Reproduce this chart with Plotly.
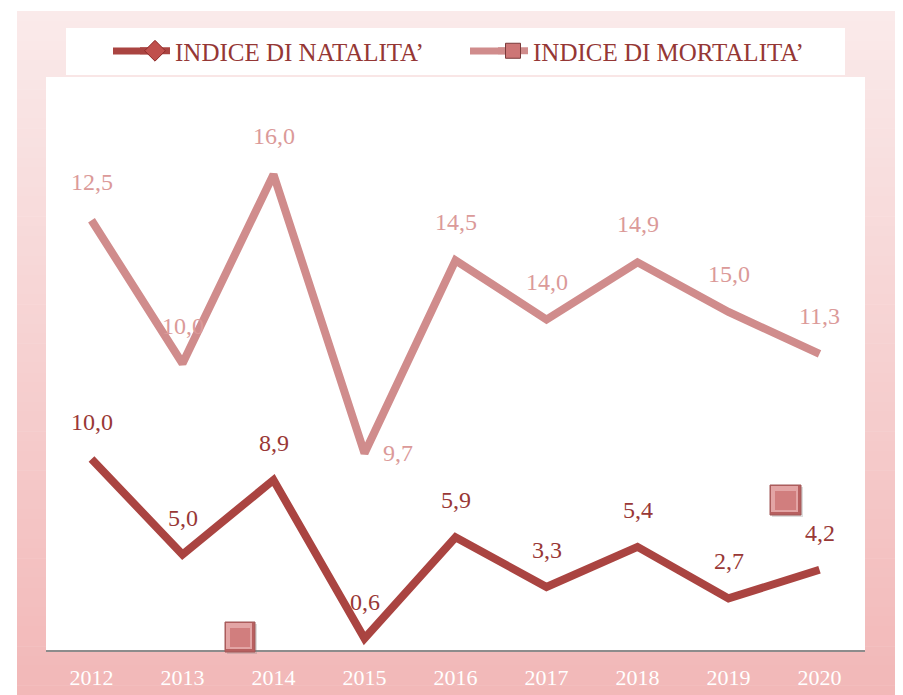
import plotly.graph_objects as go

years = ["2012", "2013", "2014", "2015", "2016", "2017", "2018", "2019", "2020"]
natalita = [10.0, 5.0, 8.9, 0.6, 5.9, 3.3, 5.4, 2.7, 4.2]
mortalita = [12.5, 10.0, 16.0, 9.7, 14.5, 14.0, 14.9, 15.0, 11.3]
name_nat = "INDICE DI NATALITA\u2019"
name_mort = "INDICE DI MORTALITA\u2019"

W, H = 903, 695
ML, MR, MT, MB = 46, 38, 77, 45
PW, PH = W - ML - MR, H - MT - MB

def px2x(px):
    return (px - ML) / PW

def py2y(py):
    return (H - MB - py) / PH

FONT = "Liberation Serif, Times New Roman, serif"
C_NAT = "#AA4441"
C_MORT = "#D08C8C"
C_NAT_TXT = "#993836"
C_MORT_TXT = "#DB9A99"

fig = go.Figure()

# stacked line chart (no area fill)
fig.add_trace(go.Scatter(x=years, y=natalita, stackgroup="s", fill="none", mode="lines",
                         line=dict(color=C_NAT, width=8), showlegend=False, name=name_nat))
fig.add_trace(go.Scatter(x=years, y=mortalita, stackgroup="s", fill="none", mode="lines",
                         line=dict(color=C_MORT, width=8), showlegend=False, name=name_mort))

# legend entries
fig.add_trace(go.Scatter(x=[None], y=[None], mode="lines+markers", name=name_nat,
                         line=dict(color=C_NAT, width=7),
                         marker=dict(symbol="diamond", size=16, color="#C0504D",
                                     line=dict(color="#8E2B29", width=1))))
fig.add_trace(go.Scatter(x=[None], y=[None], mode="lines+markers", name=name_mort,
                         line=dict(color=C_MORT, width=7),
                         marker=dict(symbol="square", size=15, color="#CD7676",
                                     line=dict(color="#7A3A3A", width=1))))

def fmt(v):
    return f"{v:.1f}".replace(".", ",")

annotations = []
cum = [a + b for a, b in zip(natalita, mortalita)]
for i, yr in enumerate(years):
    annotations.append(dict(x=i, y=natalita[i], xref="x", yref="y", text=fmt(natalita[i]),
                            showarrow=False, yanchor="middle", xanchor="center", yshift=37,
                            font=dict(family=FONT, size=24, color=C_NAT_TXT)))
    if yr == "2015":
        annotations.append(dict(x=i, y=cum[i], xref="x", yref="y", text=fmt(mortalita[i]),
                                showarrow=False, yanchor="middle", xanchor="left",
                                xshift=16, yshift=0,
                                font=dict(family=FONT, size=24, color=C_MORT_TXT)))
    else:
        annotations.append(dict(x=i, y=cum[i], xref="x", yref="y", text=fmt(mortalita[i]),
                                showarrow=False, yanchor="middle", xanchor="center", yshift=38,
                                font=dict(family=FONT, size=24, color=C_MORT_TXT)))

shapes = []
# gradient background
top_py, bot_py = 11, H
n = 70
c0 = (250, 234, 234)
c1 = (242, 184, 184)
for k in range(n):
    t = k / (n - 1)
    col = tuple(round(c0[j] + (c1[j] - c0[j]) * t) for j in range(3))
    y_a = top_py + (bot_py - top_py) * k / n
    y_b = top_py + (bot_py - top_py) * (k + 1) / n + 0.6
    shapes.append(dict(type="rect", xref="paper", yref="paper", layer="below",
                       x0=px2x(17), x1=px2x(895), y0=py2y(y_a), y1=py2y(y_b),
                       fillcolor=f"rgb{col}", line=dict(width=0)))
# legend box
shapes.append(dict(type="rect", xref="paper", yref="paper", layer="below",
                   x0=px2x(66), x1=px2x(845), y0=py2y(28), y1=py2y(75),
                   fillcolor="white", line=dict(width=0)))
# plot area
shapes.append(dict(type="rect", xref="paper", yref="paper", layer="below",
                   x0=0, x1=1, y0=0, y1=1, fillcolor="white", line=dict(width=0)))
# legend line extensions (the original legend keys are longer)
for (xa, xb, col) in [(113, 150, C_NAT), (470, 507, C_MORT)]:
    shapes.append(dict(type="line", xref="paper", yref="paper", layer="below",
                       x0=px2x(xa), x1=px2x(xb), y0=py2y(51), y1=py2y(51),
                       line=dict(color=col, width=7)))
# stray decorative squares (bevelled look)
for (xa, xb, ya, yb) in [(225, 255, 622, 652), (770, 801, 485, 515)]:
    shapes.append(dict(type="rect", xref="paper", yref="paper", layer="above",
                       x0=px2x(xa + 2), x1=px2x(xb + 2), y0=py2y(ya + 2), y1=py2y(yb + 2),
                       fillcolor="rgba(120,120,120,0.25)", line=dict(width=0)))
    shapes.append(dict(type="rect", xref="paper", yref="paper", layer="above",
                       x0=px2x(xa), x1=px2x(xb), y0=py2y(ya), y1=py2y(yb),
                       fillcolor="#B86060", line=dict(color="#A05858", width=1)))
    shapes.append(dict(type="rect", xref="paper", yref="paper", layer="above",
                       x0=px2x(xa + 1), x1=px2x(xb - 3), y0=py2y(ya + 1), y1=py2y(yb - 3),
                       fillcolor="#E3A5A5", line=dict(width=0)))
    shapes.append(dict(type="rect", xref="paper", yref="paper", layer="above",
                       x0=px2x(xa + 5), x1=px2x(xb - 5), y0=py2y(ya + 6), y1=py2y(yb - 5),
                       fillcolor="#D17E7E", line=dict(width=0)))

fig.update_layout(
    width=W, height=H,
    margin=dict(l=ML, r=MR, t=MT, b=MB, autoexpand=False),
    paper_bgcolor="white",
    plot_bgcolor="rgba(0,0,0,0)",
    font=dict(family=FONT),
    showlegend=True,
    legend=dict(orientation="h", x=px2x(135), xanchor="left", y=py2y(51), yanchor="middle",
                bgcolor="rgba(0,0,0,0)", font=dict(family=FONT, size=25, color="#953735"),
                entrywidth=313, itemwidth=30),
    xaxis=dict(type="category", range=[-0.5, 8.5], showgrid=False, zeroline=False,
               showline=True, linecolor="#8C8C8C", linewidth=2, ticks="",
               ticklabelstandoff=7, automargin=False,
               tickfont=dict(family=FONT, size=22, color="white"), fixedrange=True),
    yaxis=dict(range=[0, 30], visible=False, fixedrange=True, automargin=False),
    annotations=annotations,
    shapes=shapes,
)

fig.write_html("out.html", config={"displayModeBar": False},
               post_script="document.body.style.margin='0';")
